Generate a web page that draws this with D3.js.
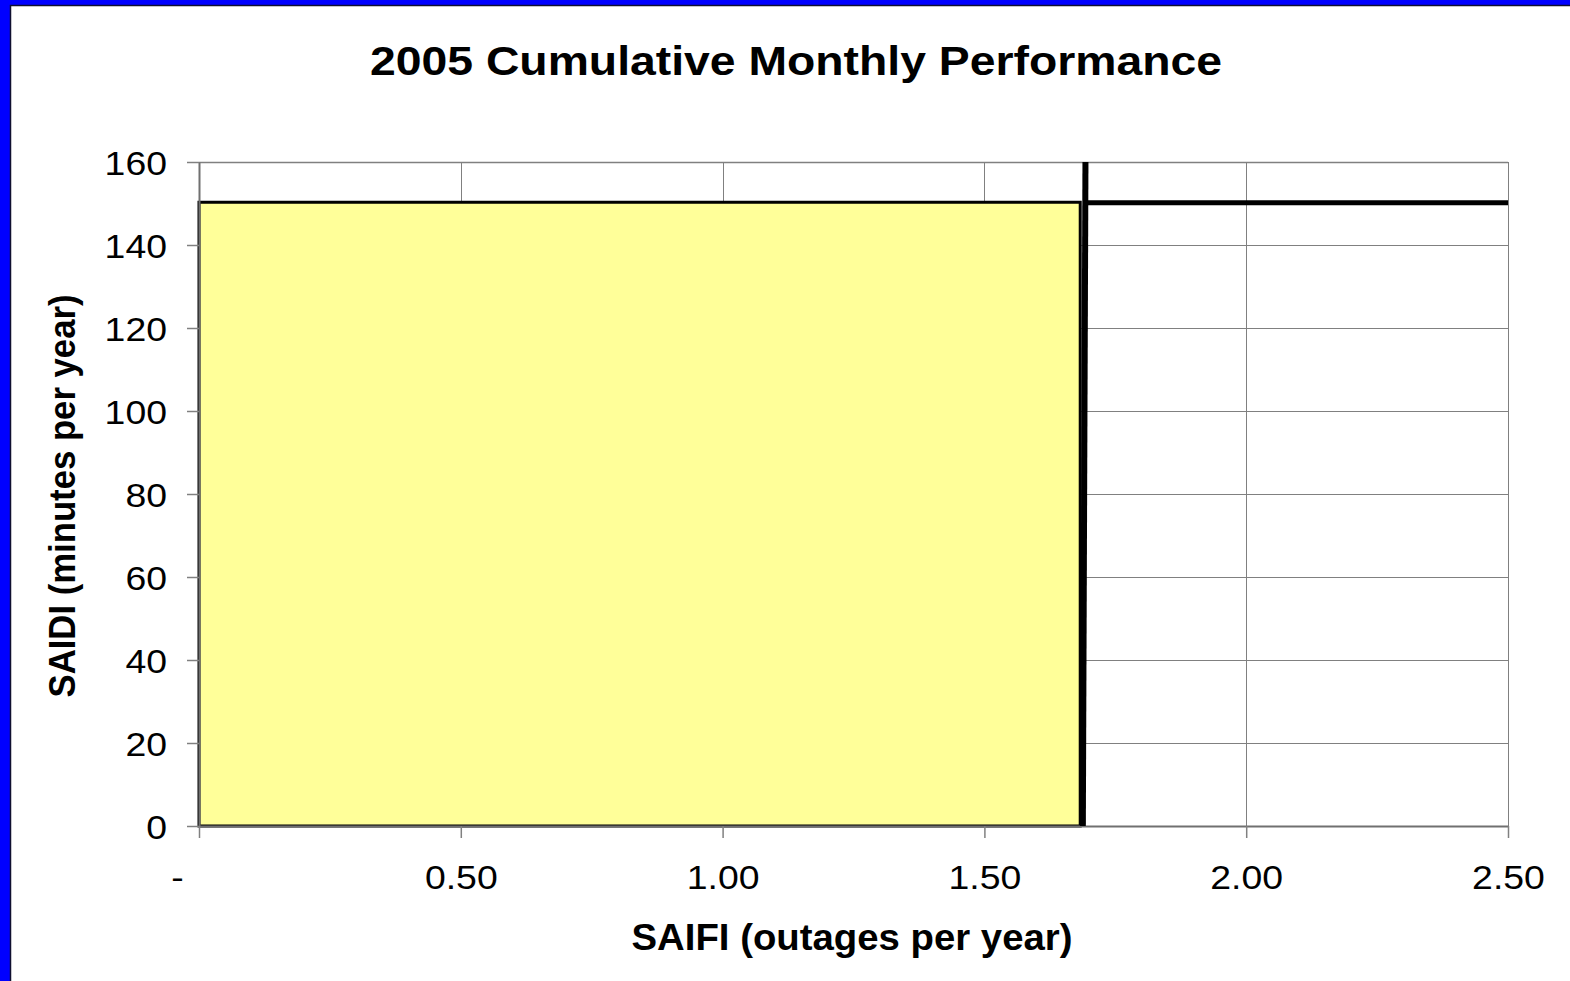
<!DOCTYPE html>
<html>
<head>
<meta charset="utf-8">
<script src="https://cdn.jsdelivr.net/npm/d3@7"></script>
<style>
  body { margin: 0; background: #0000ff; }
  svg { display: block; font-family: "Liberation Sans", Arial, sans-serif; }
</style>
</head>
<body>
<div id="chart"></div>
<script>
// chart values
const xTicks = [0, 0.5, 1.0, 1.5, 2.0, 2.5];
const yTicks = [0, 20, 40, 60, 80, 100, 120, 140, 160];
// cumulative performance box (SAIFI, SAIDI)
const actualSaifi = [1.683];
const actualSaidi = [150.3];
// target lines
const targetSaifiLine = [{ saifi: 1.688, saidi: 0 }, { saifi: 1.693, saidi: 160 }];
const targetSaidiLine = [{ saifi: 1.693, saidi: 150.2 }, { saifi: 2.5, saidi: 150.2 }];

const width = 1570, height = 981;
const margin = { top: 162, right: 62, bottom: 155, left: 199 };
const plotW = width - margin.left - margin.right;
const plotH = height - margin.top - margin.bottom;

const svg = d3.select("#chart").append("svg").attr("width", width).attr("height", height);

// slide background with blue edge
svg.append("rect").attr("width", width).attr("height", height).attr("fill", "#0000ff");
svg.append("rect").attr("x", 11).attr("y", 6).attr("width", width).attr("height", height).attr("fill", "#fff");
svg.append("path").attr("d", `M10.5,${height}V5.5H${width}`).attr("fill", "none").attr("stroke", "#101030").attr("stroke-width", 1.5);

const x = d3.scaleLinear().domain([0, 2.5]).range([0, plotW]);
const y = d3.scaleLinear().domain([0, 160]).range([plotH, 0]);

const g = svg.append("g").attr("transform", `translate(${margin.left},${margin.top})`);

function stretch(sel, f) {
  sel.each(function () {
    const len = this.getComputedTextLength();
    d3.select(this).attr("textLength", len * f).attr("lengthAdjust", "spacingAndGlyphs");
  });
}

// gridlines
g.append("g").selectAll("line").data(yTicks.slice(1)).enter().append("line")
  .attr("x1", 0).attr("x2", plotW)
  .attr("y1", d => Math.round(y(d)) + 0.5).attr("y2", d => Math.round(y(d)) + 0.5)
  .attr("stroke", "#808080").attr("stroke-width", 1);
g.append("g").selectAll("line").data(xTicks.slice(1)).enter().append("line")
  .attr("y1", 0).attr("y2", plotH)
  .attr("x1", d => Math.round(x(d)) + 0.5).attr("x2", d => Math.round(x(d)) + 0.5)
  .attr("stroke", "#808080").attr("stroke-width", 1);
g.append("line").attr("x1", 0).attr("x2", plotW).attr("y1", 0.5).attr("y2", 0.5)
  .attr("stroke", "#808080").attr("stroke-width", 1.5);

// yellow performance box
g.selectAll("rect.box").data(actualSaifi).enter().append("rect")
  .attr("class", "box")
  .attr("x", x(0))
  .attr("y", (d, i) => y(actualSaidi[i]))
  .attr("width", d => x(d) - x(0))
  .attr("height", (d, i) => y(0) - y(actualSaidi[i]))
  .attr("fill", "#ffff99")
  .attr("stroke", "#000")
  .attr("stroke-width", 3);

// axes
const yAxis = g.append("g")
  .call(d3.axisLeft(y).tickValues(yTicks).tickSize(12).tickSizeOuter(0).tickPadding(20));
const xAxis = g.append("g").attr("transform", `translate(0,${plotH})`)
  .call(d3.axisBottom(x).tickValues(xTicks).tickSize(12).tickSizeOuter(0).tickPadding(27)
    .tickFormat(d => d === 0 ? "-" : d.toFixed(2)));
[yAxis, xAxis].forEach(a => {
  a.select(".domain").attr("stroke", "#707070").attr("stroke-width", 2);
  a.selectAll(".tick line").attr("stroke", "#808080").attr("stroke-width", 1.5);
  a.selectAll(".tick text").attr("font-size", 34).attr("fill", "#000")
    .attr("font-family", "'Liberation Sans', Arial, sans-serif");
});
yAxis.selectAll(".tick text").attr("dy", "0.36em");
xAxis.selectAll(".tick text").filter(d => d === 0).attr("x", -22);
stretch(yAxis.selectAll(".tick text"), 1.1);
stretch(xAxis.selectAll(".tick text"), 1.1);

// target lines
const line = d3.line().x(d => x(d.saifi)).y(d => y(d.saidi));
g.append("path").datum(targetSaifiLine).attr("d", line)
  .attr("fill", "none").attr("stroke", "#000").attr("stroke-width", 6);
g.append("path").datum(targetSaidiLine).attr("d", line)
  .attr("fill", "none").attr("stroke", "#000").attr("stroke-width", 5);

// titles
svg.append("text")
  .attr("x", 796).attr("y", 75)
  .attr("text-anchor", "middle")
  .attr("font-size", 40).attr("font-weight", "bold")
  .attr("textLength", 852).attr("lengthAdjust", "spacingAndGlyphs")
  .text("2005 Cumulative Monthly Performance");

svg.append("text")
  .attr("x", 852).attr("y", 950)
  .attr("text-anchor", "middle")
  .attr("font-size", 36).attr("font-weight", "bold")
  .attr("textLength", 441).attr("lengthAdjust", "spacingAndGlyphs")
  .text("SAIFI (outages per year)");

svg.append("text")
  .attr("transform", "translate(75,496) rotate(-90)")
  .attr("text-anchor", "middle")
  .attr("font-size", 36).attr("font-weight", "bold")
  .attr("textLength", 403).attr("lengthAdjust", "spacingAndGlyphs")
  .text("SAIDI (minutes per year)");
</script>
</body>
</html>
